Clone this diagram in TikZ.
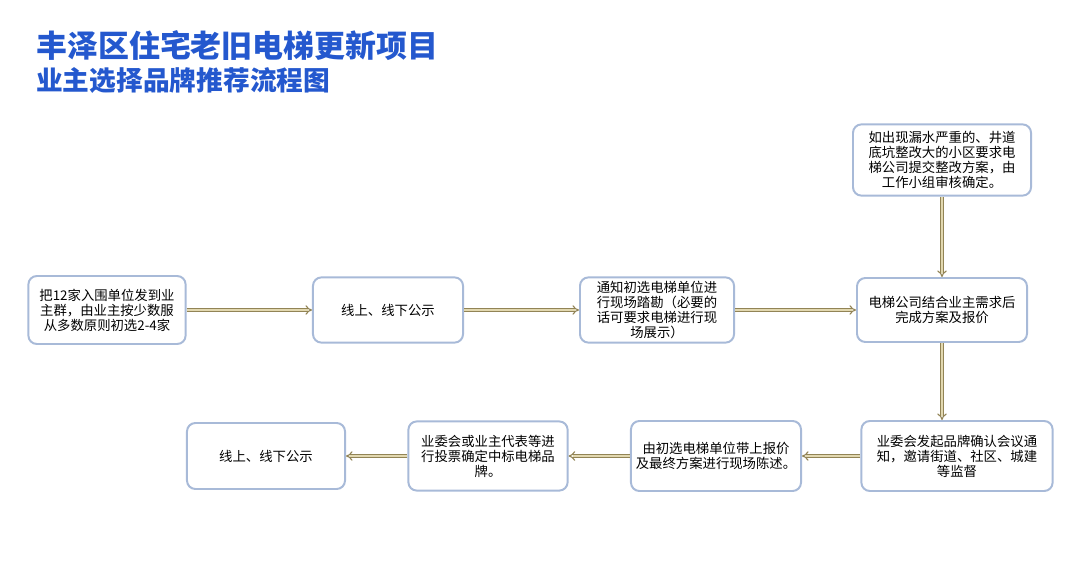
\documentclass[tikz,border=0pt]{standalone}
\usepackage{fontspec}
\setmainfont{Noto Sans CJK SC}
\usepackage{xcolor}
\usetikzlibrary{arrows.meta,positioning}
\definecolor{titleblue}{RGB}{36,88,206}
\definecolor{boxline}{RGB}{168,186,216}
\definecolor{arrowline}{RGB}{146,132,86}
\definecolor{arrowfill}{RGB}{226,216,176}

\begin{document}
\begin{tikzpicture}[x=0.025cm,y=-0.025cm,
    stepbox/.style={draw=boxline,line width=1.4pt,fill=white,rounded corners=6pt,align=center,
      font=\fontsize{9.5}{10.6}\selectfont,inner sep=2pt},
    flow/.style={draw=arrowline,double=arrowfill,double distance=1.5pt,line width=0.8pt,-{Implies}}]
    \useasboundingbox (0,0) rectangle (1080,584);
    % Title
    \node[anchor=west,font=\fontsize{22}{24}\selectfont\bfseries,text=titleblue,inner sep=0pt] (title1) at (36,46) {丰泽区住宅老旧电梯更新项目};
    \node[anchor=west,font=\fontsize{19}{21}\selectfont\bfseries,text=titleblue,inner sep=0pt] (title2) at (36,80) {业主选择品牌推荐流程图};

    % Top row
    \node[stepbox,minimum width=3.93cm,minimum height=1.7cm] (pick) at (107,310) {把12家入围单位发到业\\主群，由业主按少数服\\从多数原则初选2-4家};
    \node[stepbox,minimum width=3.75cm,minimum height=1.63cm] (pub1) at (388,310) {线上、线下公示};
    \node[stepbox,minimum width=3.85cm,minimum height=1.63cm] (survey) at (657,310) {通知初选电梯单位进\\行现场踏勘（必要的\\话可要求电梯进行现\\场展示）};
    \node[stepbox,minimum width=4.25cm,minimum height=1.6cm] (quote) at (942,310) {电梯公司结合业主需求后\\完成方案及报价};
    \node[stepbox,minimum width=4.45cm,minimum height=1.78cm] (repair) at (942,160) {如出现漏水严重的、井道\\底坑整改大的小区要求电\\梯公司提交整改方案，由\\工作小组审核确定。};

    % Bottom row
    \node[stepbox,minimum width=4.78cm,minimum height=1.75cm] (meeting) at (957,456) {业委会发起品牌确认会议通\\知，邀请街道、社区、城建\\等监督};
    \node[stepbox,minimum width=4.25cm,minimum height=1.75cm] (present) at (716,456) {由初选电梯单位带上报价\\及最终方案进行现场陈述。};
    \node[stepbox,minimum width=3.98cm,minimum height=1.73cm] (vote) at (488,456) {业委会或业主代表等进\\行投票确定中标电梯品\\牌。};
    \node[stepbox,minimum width=3.95cm,minimum height=1.65cm] (pub2) at (266,456) {线上、线下公示};

    % Connectors
    \draw[flow] (pick) -- (pub1);
    \draw[flow] (pub1) -- (survey);
    \draw[flow] (survey) -- (quote);
    \draw[flow] (repair) -- (quote);
    \draw[flow] (quote.south) -- (quote.south |- meeting.north);
    \draw[flow] (meeting) -- (present);
    \draw[flow] (present) -- (vote);
    \draw[flow] (vote) -- (pub2);
\end{tikzpicture}
\end{document}
